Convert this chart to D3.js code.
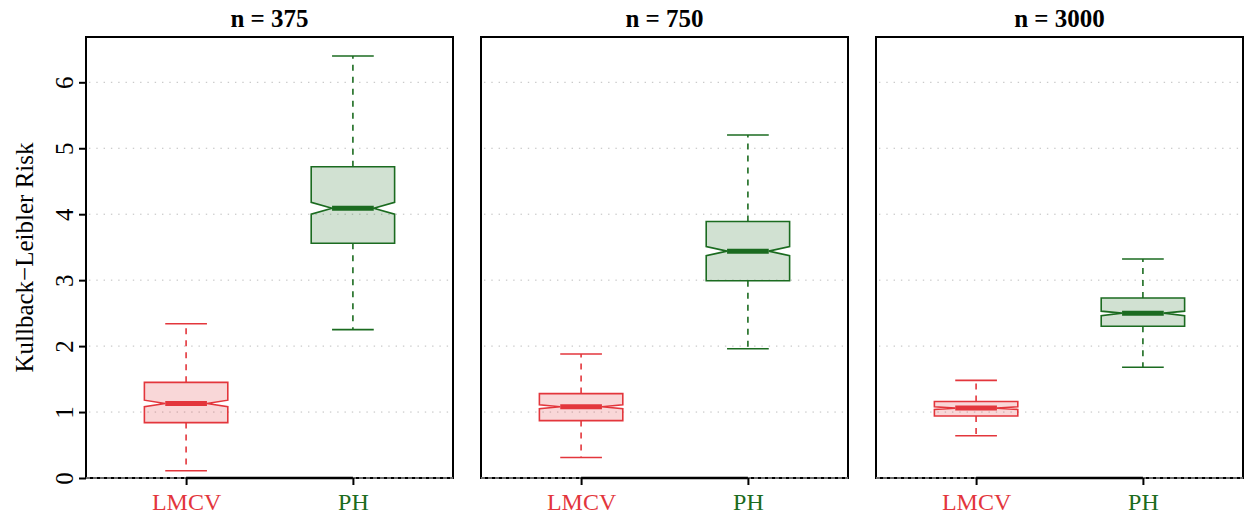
<!DOCTYPE html>
<html>
<head>
<meta charset="utf-8">
<script src="https://cdn.jsdelivr.net/npm/d3@7"></script>
<style>
  body { margin: 0; background: #fff; }
  svg { display: block; font-family: "Liberation Serif", "Times New Roman", serif; }
</style>
</head>
<body>
<div id="chart"></div>
<script>
// panels, methods and the box statistics
const panels = ["n = 375", "n = 750", "n = 3000"]
const methods = ["LMCV", "PH"]

// one array per method, one value per panel
const whiskerLo = { LMCV: [0.11, 0.31, 0.64], PH: [2.25, 1.96, 1.68] }
const q1 = { LMCV: [0.84, 0.87, 0.94], PH: [3.56, 2.99, 2.30] }
const notchLo = { LMCV: [1.08, 1.05, 1.04], PH: [4.00, 3.37, 2.46] }
const median = { LMCV: [1.13, 1.08, 1.06], PH: [4.09, 3.44, 2.50] }
const notchHi = { LMCV: [1.18, 1.11, 1.08], PH: [4.18, 3.51, 2.53] }
const q3 = { LMCV: [1.45, 1.28, 1.16], PH: [4.72, 3.89, 2.73] }
const whiskerHi = { LMCV: [2.34, 1.88, 1.48], PH: [6.40, 5.20, 3.32] }

const yTicks = [0, 1, 2, 3, 4, 5, 6]
const yLabel = "Kullback\u2212Leibler Risk"

const colors = { LMCV: "#e3363c", PH: "#1b6b20" }

const width = 1246, height = 516
const plotTop = 37, plotBottom = 478

const svg = d3.select("#chart").append("svg")
    .attr("width", width)
    .attr("height", height)

const panelX = d3.scaleBand()
    .domain(panels)
    .range([86, 1243])
    .paddingInner(28 / 395)

const y = d3.scaleLinear()
    .domain([0, 6.687])
    .range([plotBottom, plotTop])

panels.forEach((p, i) => {
    const left = panelX(p)
    const right = left + panelX.bandwidth()

    const x = d3.scalePoint()
        .domain(methods)
        .range([left, right])
        .padding(0.6)

    const half = x.step() * 0.25  // half box width
    const g = svg.append("g")

    // dotted grid
    g.selectAll(".grid")
        .data(yTicks.filter(d => d > 0))
        .enter()
        .append("line")
        .attr("x1", left + 3)
        .attr("x2", right - 3)
        .attr("y1", d => y(d))
        .attr("y2", d => y(d))
        .attr("stroke", "#bdbdbd")
        .attr("stroke-width", 1)
        .attr("stroke-dasharray", "1.4 5.9")

    // frame
    g.append("rect")
        .attr("x", left)
        .attr("y", plotTop)
        .attr("width", right - left)
        .attr("height", plotBottom - plotTop)
        .attr("fill", "none")
        .attr("stroke", "#000")
        .attr("stroke-width", 2)

    // dashed line at zero over the frame
    g.append("line")
        .attr("x1", left)
        .attr("x2", right)
        .attr("y1", y(0))
        .attr("y2", y(0))
        .attr("stroke", "#d9d9d9")
        .attr("stroke-width", 1)
        .attr("stroke-dasharray", "4 3")

    methods.forEach(m => {
        const cx = x(m)
        const L = cx - half, R = cx + half
        const c = colors[m]

        // whiskers
        g.append("line")
            .attr("x1", cx).attr("x2", cx)
            .attr("y1", y(q3[m][i])).attr("y2", y(whiskerHi[m][i]))
            .attr("stroke", c).attr("stroke-width", 1.6)
            .attr("stroke-dasharray", "6 6")
        g.append("line")
            .attr("x1", cx).attr("x2", cx)
            .attr("y1", y(q1[m][i])).attr("y2", y(whiskerLo[m][i]))
            .attr("stroke", c).attr("stroke-width", 1.6)
            .attr("stroke-dasharray", "6 6")

        // staples
        ;[whiskerHi[m][i], whiskerLo[m][i]].forEach(v => {
            g.append("line")
                .attr("x1", cx - half / 2).attr("x2", cx + half / 2)
                .attr("y1", y(v)).attr("y2", y(v))
                .attr("stroke", c).attr("stroke-width", 1.6)
        })

        // notched box
        const pts = [
            [L, y(q1[m][i])], [L, y(notchLo[m][i])], [L + half / 2, y(median[m][i])],
            [L, y(notchHi[m][i])], [L, y(q3[m][i])], [R, y(q3[m][i])],
            [R, y(notchHi[m][i])], [R - half / 2, y(median[m][i])], [R, y(notchLo[m][i])],
            [R, y(q1[m][i])]
        ]
        g.append("path")
            .attr("d", d3.line()(pts) + "Z")
            .attr("fill", c)
            .attr("fill-opacity", 0.2)
            .attr("stroke", c)
            .attr("stroke-width", 1.6)
            .attr("stroke-linejoin", "miter")

        // median
        g.append("line")
            .attr("x1", L + half / 2).attr("x2", R - half / 2)
            .attr("y1", y(median[m][i])).attr("y2", y(median[m][i]))
            .attr("stroke", c).attr("stroke-width", 5)
    })

    // x axis
    const xa = g.append("g")
        .attr("transform", `translate(0,${plotBottom})`)
        .call(d3.axisBottom(x).tickSize(7))
    xa.select(".domain").remove()
    xa.selectAll(".tick line").attr("stroke", "#000").attr("stroke-width", 2)
    xa.selectAll(".tick text")
        .attr("y", 32)
        .attr("dy", null)
        .attr("fill", d => colors[d])
        .style("font-family", "Liberation Serif")
        .style("font-size", "24px")
    xa.append("line")
        .attr("x1", x(methods[0]))
        .attr("x2", x(methods[methods.length - 1]))
        .attr("stroke", "#000")
        .attr("stroke-width", 2.5)

    // panel title
    g.append("text")
        .attr("x", (left + right) / 2)
        .attr("y", 27)
        .attr("text-anchor", "middle")
        .style("font-size", "25px")
        .style("font-weight", "bold")
        .text(p)

    // y axis only on the first panel
    if (i === 0) {
        const ya = g.append("g")
            .attr("transform", `translate(${left},0)`)
            .call(d3.axisLeft(y).tickValues(yTicks).tickFormat(d3.format("d")).tickSize(7).tickSizeOuter(0))
        ya.select(".domain").remove()
        ya.selectAll(".tick line").attr("stroke", "#000").attr("stroke-width", 2)
        ya.selectAll(".tick text")
            .attr("x", null).attr("dy", null)
            .attr("text-anchor", "middle")
            .attr("transform", "translate(-13,0) rotate(-90)")
            .style("font-family", "Liberation Serif")
            .style("font-size", "25px")
            .attr("fill", "#000")
    }
})

// y axis title
svg.append("text")
    .attr("transform", `translate(33,${(plotTop + plotBottom) / 2}) rotate(-90)`)
    .attr("text-anchor", "middle")
    .style("font-size", "25px")
    .text(yLabel)
</script>
</body>
</html>
